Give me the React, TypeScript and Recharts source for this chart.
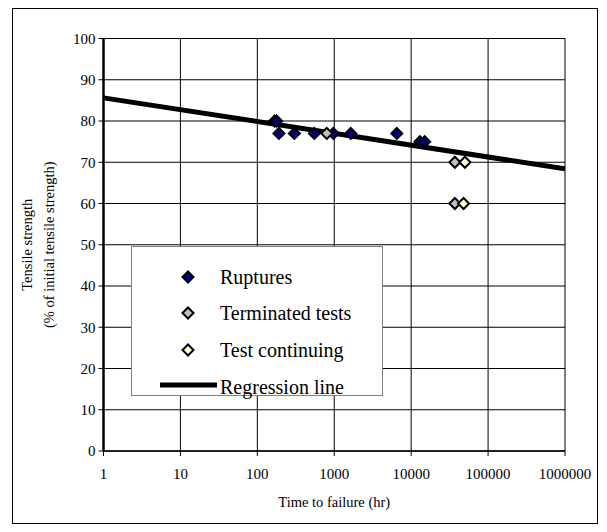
import { ScatterChart, Scatter, XAxis, YAxis, CartesianGrid, Legend } from 'recharts';

const serif = '"Liberation Serif", "Times New Roman", serif';

const xTicks = [1, 10, 100, 1000, 10000, 100000, 1000000];
const yTicks = [0, 10, 20, 30, 40, 50, 60, 70, 80, 90, 100];

// hours to failure vs % of initial tensile strength
const ruptures = [
  { x: 168, y: 80 },
  { x: 178, y: 80 },
  { x: 191, y: 77 },
  { x: 303, y: 77 },
  { x: 551, y: 77 },
  { x: 973, y: 77 },
  { x: 1640, y: 77 },
  { x: 6500, y: 77 },
  { x: 13000, y: 75 },
  { x: 15000, y: 75 },
];
const terminated = [
  { x: 800, y: 77 },
  { x: 37000, y: 70 },
  { x: 37000, y: 60 },
];
const continuing = [
  { x: 50000, y: 70 },
  { x: 48000, y: 60 },
];
const regression = [
  { x: 1, y: 85.6 },
  { x: 1000000, y: 68.4 },
];

const legendItems = [
  { label: 'Ruptures', fill: '#000080', line: false },
  { label: 'Terminated tests', fill: '#c0c0c0', line: false },
  { label: 'Test continuing', fill: '#ffffcc', line: false },
  { label: 'Regression line', fill: '#000', line: true },
];

function Diamond({ cx, cy, fill }: { cx: number; cy: number; fill: string }) {
  const r = 5.5;
  return (
    <polygon
      points={`${cx},${cy - r} ${cx + r},${cy} ${cx},${cy + r} ${cx - r},${cy}`}
      fill={fill}
      stroke="#000"
      strokeWidth={2}
    />
  );
}

function marker(fill: string) {
  return (p: any) => <Diamond cx={p.cx} cy={p.cy} fill={fill} />;
}

function LegendBox() {
  const rows = [30, 66, 103, 140];
  return (
    <div
      style={{
        position: 'relative',
        width: 252,
        height: 150,
        boxSizing: 'border-box',
        border: '1px solid #808080',
        background: '#fff',
        fontFamily: serif,
        fontSize: 20,
        color: '#000',
      }}
    >
      {legendItems.map((it, i) => (
        <div key={it.label} style={{ position: 'absolute', left: 0, top: rows[i] - 15, height: 30, width: 250 }}>
          <svg width={90} height={30} style={{ position: 'absolute', left: 0, top: 0 }}>
            {it.line ? (
              <line x1={28} y1={13} x2={85} y2={13} stroke="#000" strokeWidth={5} />
            ) : (
              <Diamond cx={56} cy={15} fill={it.fill} />
            )}
          </svg>
          <span style={{ position: 'absolute', left: 88, top: 0, lineHeight: '30px', whiteSpace: 'nowrap' }}>
            {it.label}
          </span>
        </div>
      ))}
    </div>
  );
}

function YTitle(props: any) {
  const { x, y, width, height } = props.viewBox;
  const cy = y + height / 2;
  const right = x + width;
  const x1 = right - 76.5;
  const x2 = right - 54.5;
  return (
    <g fontFamily={serif} fontSize={14.5} fill="#000">
      <text x={x1} y={cy} textAnchor="middle" dominantBaseline="central" transform={`rotate(-90, ${x1}, ${cy})`}>
        Tensile strength
      </text>
      <text x={x2} y={cy} textAnchor="middle" dominantBaseline="central" transform={`rotate(-90, ${x2}, ${cy})`}>
        (% of initial tensile strength)
      </text>
    </g>
  );
}

export default function App() {
  const tick = { fill: '#000', fontSize: 15, fontFamily: serif };
  return (
    <div style={{ position: 'absolute', left: 0, top: 0, width: 607, height: 532, background: '#fff' }}>
      <ScatterChart
        width={607}
        height={532}
        margin={{ top: 38.5, right: 42, bottom: 21, left: 43.5 }}
        style={{ fontFamily: serif }}
      >
        <CartesianGrid stroke="#000" strokeWidth={1} />
        <XAxis
          type="number"
          dataKey="x"
          scale="log"
          domain={[1, 1000000]}
          ticks={xTicks}
          allowDataOverflow
          height={60}
          tick={tick}
          tickSize={5}
          tickMargin={12}
          axisLine={{ stroke: '#000', strokeWidth: 1.5 }}
          tickLine={{ stroke: '#000' }}
          label={{ value: 'Time to failure (hr)', position: 'insideBottom', offset: 4, fill: '#000', fontSize: 14.5, fontFamily: serif }}
        />
        <YAxis
          type="number"
          dataKey="y"
          domain={[0, 100]}
          ticks={yTicks}
          width={60}
          tick={tick}
          tickSize={5}
          tickMargin={3}
          axisLine={{ stroke: '#000', strokeWidth: 2.5 }}
          tickLine={{ stroke: '#000' }}
          label={<YTitle />}
        />
        <Scatter
          name="Regression line"
          data={regression}
          fill="#000"
          line={{ stroke: '#000', strokeWidth: 5 }}
          shape={() => <g />}
          isAnimationActive={false}
        />
        <Scatter name="Ruptures" data={ruptures} fill="#000080" shape={marker('#000080')} isAnimationActive={false} />
        <Scatter name="Terminated tests" data={terminated} fill="#c0c0c0" shape={marker('#c0c0c0')} isAnimationActive={false} />
        <Scatter name="Test continuing" data={continuing} fill="#ffffcc" shape={marker('#ffffcc')} isAnimationActive={false} />
        <Legend
          layout="horizontal"
          verticalAlign="middle"
          align="center"
          content={<LegendBox />}
          wrapperStyle={{ left: 131, top: 246, width: 252, height: 150 }}
        />
      </ScatterChart>
      <div
        style={{
          position: 'absolute',
          left: 12,
          top: 8,
          width: 586,
          height: 516,
          boxSizing: 'border-box',
          border: '1px solid #000',
          pointerEvents: 'none',
        }}
      />
    </div>
  );
}
